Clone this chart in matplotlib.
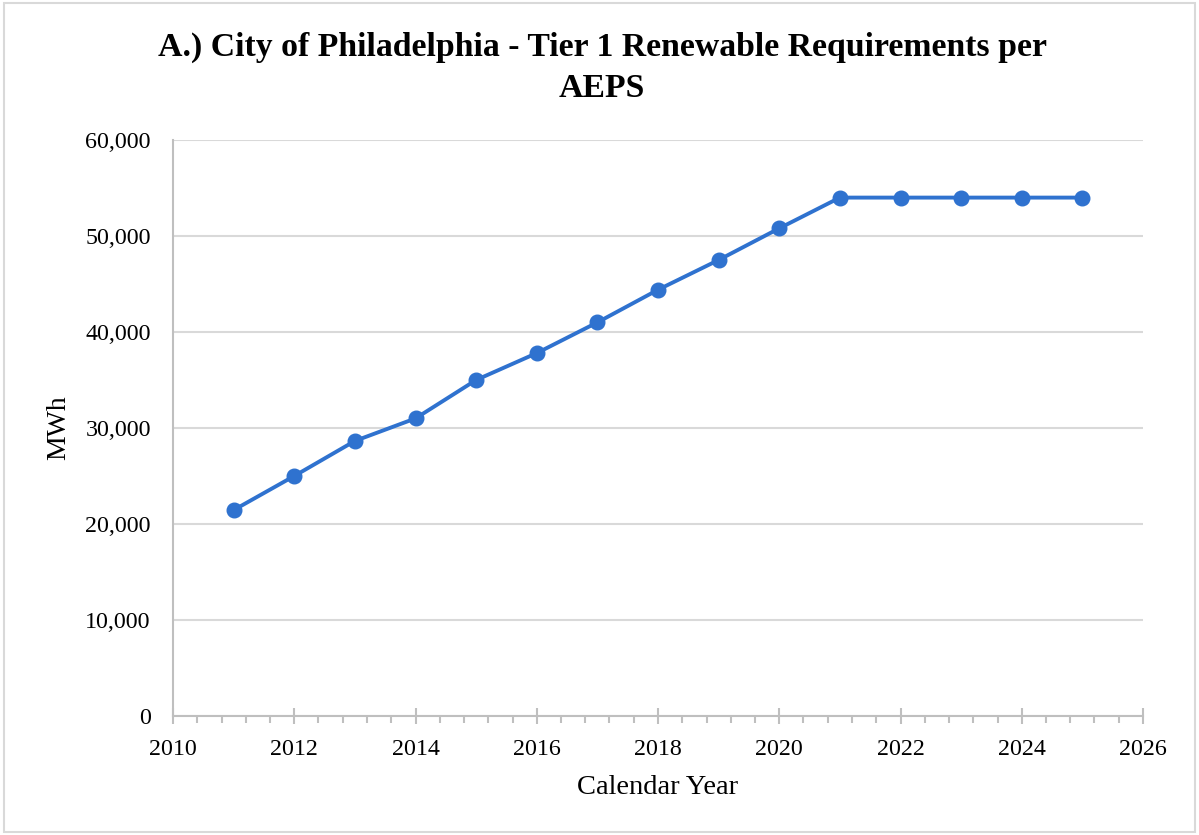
import matplotlib
matplotlib.use("Agg")
import matplotlib.pyplot as plt
from matplotlib.ticker import FuncFormatter, MultipleLocator
from matplotlib.patches import Rectangle

years = [2011, 2012, 2013, 2014, 2015, 2016, 2017, 2018, 2019, 2020, 2021, 2022, 2023, 2024, 2025]
mwh = [21450, 25000, 28650, 31000, 35000, 37800, 41000, 44400, 47500, 50800, 54000, 54000, 54000, 54000, 54000]

title = "A.) City of Philadelphia - Tier 1 Renewable Requirements per\nAEPS"
xlabel = "Calendar Year"
ylabel = "MWh"

plt.rcParams['font.family'] = ['Liberation Serif', 'DejaVu Serif']

fig = plt.figure(figsize=(11.99, 8.35), dpi=100)
ax = fig.add_axes([173/1199, 1-716/835, (1143-173)/1199, (716-140)/835])

fig.patches.append(Rectangle((0.003, 0.003), 0.994, 0.994, transform=fig.transFigure,
                             fill=False, edgecolor='#d9d9d9', linewidth=1.5))

ax.plot(years, mwh, color='#2f72cf', linewidth=2.8, marker='o', markersize=10.5,
        markerfacecolor='#2f72cf', markeredgecolor='#2f72cf', zorder=3)

ax.set_xlim(2010, 2026)
ax.set_ylim(0, 60000)
ax.xaxis.set_major_locator(MultipleLocator(2))
ax.xaxis.set_minor_locator(MultipleLocator(0.4))
ax.yaxis.set_major_locator(MultipleLocator(10000))
ax.yaxis.set_major_formatter(FuncFormatter(lambda v, p: f"{int(v):,}"))

ax.grid(axis='y', color='#d9d9d9', linewidth=1.5, zorder=0)
ax.set_axisbelow(True)
for s in ['top', 'right']:
    ax.spines[s].set_visible(False)
for s in ['left', 'bottom']:
    ax.spines[s].set_color('#bfbfbf')
    ax.spines[s].set_linewidth(1.5)

ax.tick_params(axis='x', which='major', direction='inout', length=11, width=1.5, color='#bfbfbf',
               labelsize=17.3, pad=11)
ax.tick_params(axis='x', which='minor', direction='out', length=5, width=1.5, color='#bfbfbf')
ax.tick_params(axis='y', which='major', length=0, labelsize=17.3, pad=16)

ax.set_xlabel(xlabel, fontsize=20.5, labelpad=11)
ax.set_ylabel(ylabel, fontsize=20, labelpad=10)
fig.text(602/1199, 1-68/835, title, ha='center', va='center', fontsize=24.3,
         fontweight='bold', linespacing=1.4)

fig.savefig("out.png", dpi=100)
